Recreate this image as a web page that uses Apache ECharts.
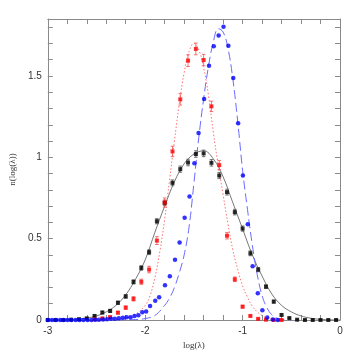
<!DOCTYPE html>
<html>
<head>
<meta charset="utf-8">
<script src="https://cdn.jsdelivr.net/npm/echarts@6/dist/echarts.min.js"></script>
<style>
  html, body { margin: 0; padding: 0; background: #fff; }
  #chart { width: 359px; height: 359px; }
</style>
</head>
<body>
<div id="chart"></div>
<script>
// tick labels
const xTickLabels = [-3, -2, -1, 0];
const yTickLabels = [0, 0.5, 1, 1.5];

// black points (with error bars)
const blackX = [-3.00, -2.92, -2.84, -2.76, -2.68, -2.60, -2.52, -2.44, -2.36, -2.28,
  -2.20, -2.12, -2.04, -1.96, -1.88, -1.80, -1.72, -1.64, -1.56, -1.48,
  -1.40, -1.32, -1.24, -1.16, -1.08, -1.00, -0.92, -0.84, -0.76, -0.68,
  -0.60, -0.52, -0.44, -0.36, -0.28, -0.20, -0.12, -0.04];
const blackY = [0, 0, 0, 0.002, 0.005, 0.010, 0.025, 0.046, 0.056, 0.106,
  0.145, 0.234, 0.320, 0.417, 0.607, 0.720, 0.843, 0.927, 0.968, 1.020,
  1.024, 0.966, 0.888, 0.786, 0.663, 0.562, 0.410, 0.310, 0.205, 0.113,
  0.031, 0.012, 0.002, 0, 0, 0, 0, 0];
const blackErr = [0.002, 0.002, 0.002, 0.003, 0.004, 0.005, 0.006, 0.008, 0.009, 0.010,
  0.011, 0.013, 0.014, 0.015, 0.016, 0.017, 0.018, 0.019, 0.020, 0.020,
  0.020, 0.020, 0.019, 0.018, 0.017, 0.016, 0.015, 0.013, 0.011, 0.009,
  0.006, 0.004, 0.003, 0.002, 0.002, 0.002, 0.002, 0.002];

// red points (with error bars)
const redX = [-2.52, -2.44, -2.36, -2.28, -2.20, -2.12, -2.04, -1.96, -1.88, -1.80,
  -1.72, -1.64, -1.56, -1.48, -1.40, -1.32, -1.24, -1.16, -1.08, -1.00,
  -0.92, -0.84, -0.76, -0.68, -0.60];
const redY = [0.004, 0.010, 0.018, 0.045, 0.076, 0.130, 0.235, 0.310, 0.488, 0.722,
  1.036, 1.356, 1.594, 1.666, 1.598, 1.313, 0.952, 0.518, 0.250, 0.082,
  0.025, 0.007, 0.002, 0, 0];
const redErr = [0.003, 0.004, 0.006, 0.008, 0.010, 0.013, 0.016, 0.020, 0.024, 0.028,
  0.032, 0.035, 0.036, 0.036, 0.035, 0.032, 0.028, 0.020, 0.014, 0.008,
  0.005, 0.003, 0.002, 0.002, 0.002];

// blue points
const blueX = [-3.00, -2.957, -2.917, -2.873, -2.838, -2.798, -2.758, -2.714, -2.674, -2.634,
  -2.591, -2.551, -2.512, -2.475, -2.432, -2.392, -2.352, -2.312, -2.271, -2.230,
  -2.190, -2.150, -2.110, -2.070, -2.030, -1.990, -1.950, -1.897, -1.857, -1.797,
  -1.747, -1.694, -1.647, -1.595, -1.545, -1.495, -1.452, -1.395, -1.345, -1.296,
  -1.246, -1.196, -1.146, -1.096, -1.046, -0.997, -0.947, -0.897, -0.844, -0.797,
  -0.747, -0.690, -0.638];
const blueY = [0, 0, 0, 0, 0, 0, 0, 0, 0, 0,
  0, 0, 0.002, 0.002, 0.003, 0.005, 0.008, 0.008, 0.010, 0.014,
  0.017, 0.017, 0.025, 0.029, 0.047, 0.053, 0.086, 0.119, 0.140, 0.214,
  0.269, 0.371, 0.476, 0.628, 0.759, 0.964, 1.149, 1.358, 1.563, 1.682,
  1.748, 1.802, 1.686, 1.487, 1.210, 0.888, 0.588, 0.330, 0.164, 0.060,
  0.015, 0.003, 0];

// fitted curves
const blackFitX = [-3.0, -2.8, -2.7, -2.6, -2.5, -2.4, -2.3, -2.2, -2.1, -2.0, -1.9, -1.8, -1.7, -1.6,
  -1.5, -1.4, -1.3, -1.2, -1.1, -1.0, -0.9, -0.8, -0.7, -0.6, -0.5, -0.4, -0.3, -0.2, -0.1, 0];
const blackFitY = [0, 0.002, 0.005, 0.012, 0.025, 0.05, 0.09, 0.155, 0.25, 0.37, 0.54, 0.70, 0.85, 0.96,
  1.02, 1.04, 0.99, 0.88, 0.72, 0.56, 0.40, 0.27, 0.16, 0.09, 0.05, 0.025, 0.011, 0.004, 0.001, 0];

const redFitX = [-2.4, -2.3, -2.2, -2.1, -2.0, -1.95, -1.9, -1.85, -1.8, -1.75, -1.7, -1.65, -1.6, -1.55,
  -1.5, -1.45, -1.4, -1.35, -1.3, -1.25, -1.2, -1.15, -1.1, -1.05, -1.0, -0.95, -0.9, -0.85, -0.8,
  -0.75, -0.7, -0.65, -0.6];
const redFitY = [0, 0.003, 0.012, 0.035, 0.09, 0.15, 0.26, 0.42, 0.62, 0.86, 1.10, 1.33, 1.52, 1.65,
  1.70, 1.66, 1.55, 1.38, 1.15, 0.95, 0.77, 0.59, 0.43, 0.31, 0.21, 0.14, 0.085, 0.05, 0.027,
  0.012, 0.005, 0.001, 0];

const blueFitX = [-2.3, -2.2, -2.1, -2.0, -1.9, -1.8, -1.75, -1.7, -1.65, -1.6, -1.55, -1.5, -1.45, -1.4,
  -1.35, -1.3, -1.25, -1.2, -1.15, -1.1, -1.05, -1.0, -0.95, -0.9, -0.85, -0.8, -0.75, -0.7,
  -0.65, -0.6, -0.5];
const blueFitY = [0, 0.001, 0.003, 0.009, 0.028, 0.09, 0.135, 0.20, 0.29, 0.40, 0.57, 0.84, 1.12, 1.36,
  1.56, 1.71, 1.79, 1.77, 1.67, 1.48, 1.22, 0.92, 0.68, 0.46, 0.28, 0.15, 0.075, 0.032,
  0.012, 0.004, 0];

const zip = (xs, ys, es) => xs.map((x, i) => es ? [x, ys[i], es[i]] : [x, ys[i]]);
const near = (v, list) => list.some(t => Math.abs(v - t) < 1e-6);

// 误差棒
function errorBars(color) {
  return function (params, api) {
    const x = api.value(0), y = api.value(1), e = api.value(2);
    const top = api.coord([x, y + e]);
    const bot = api.coord([x, Math.max(0, y - e)]);
    const style = { stroke: color, lineWidth: 0.8 };
    return {
      type: 'group',
      children: [
        { type: 'line', shape: { x1: top[0], y1: top[1], x2: bot[0], y2: bot[1] }, style },
        { type: 'line', shape: { x1: top[0] - 1.8, y1: top[1], x2: top[0] + 1.8, y2: top[1] }, style },
        { type: 'line', shape: { x1: bot[0] - 1.8, y1: bot[1], x2: bot[0] + 1.8, y2: bot[1] }, style }
      ]
    };
  };
}

const frame = { show: true, onZero: false, lineStyle: { color: '#8a8a8a', width: 1 } };
const ticks = { show: true, inside: true, length: 5, lineStyle: { color: '#8a8a8a', width: 1 } };

const myChart = echarts.init(document.getElementById('chart'), null, { renderer: 'canvas' });
const option = {
  animation: false,
  grid: { left: 39, right: 19, top: 19, bottom: 39 },
  xAxis: [
    {
      type: 'value', min: -3, max: 0, interval: 0.2, position: 'bottom',
      axisLine: frame, axisTick: ticks, splitLine: { show: false },
      axisLabel: {
        color: '#333', fontSize: 10, fontFamily: 'Liberation Sans', margin: 6,
        formatter: v => near(v, xTickLabels) ? String(Math.round(v)) : ''
      },
      name: 'log(λ)', nameLocation: 'middle', nameGap: 19,
      nameTextStyle: { color: '#333', fontSize: 9, fontFamily: 'Liberation Serif' }
    },
    {
      type: 'value', min: -3, max: 0, interval: 0.2, position: 'top',
      axisLine: frame, axisTick: ticks, splitLine: { show: false }, axisLabel: { show: false }
    }
  ],
  yAxis: [
    {
      type: 'value', min: 0, max: 1.85, interval: 0.1, position: 'left',
      axisLine: frame, axisTick: ticks, splitLine: { show: false },
      axisLabel: {
        color: '#333', fontSize: 10, fontFamily: 'Liberation Sans', margin: 6,
        showMaxLabel: false,
        formatter: v => near(v, yTickLabels) ? String(Math.round(v * 10) / 10) : ''
      },
      name: 'n(log(λ))', nameLocation: 'middle', nameGap: 26,
      nameTextStyle: { color: '#333', fontSize: 9, fontFamily: 'Liberation Serif' }
    },
    {
      type: 'value', min: 0, max: 1.85, interval: 0.1, position: 'right',
      axisLine: frame, axisTick: ticks, splitLine: { show: false }, axisLabel: { show: false }
    }
  ],
  series: [
    {
      type: 'line', data: zip(blackFitX, blackFitY), smooth: 0.4, symbol: 'none',
      lineStyle: { color: '#555', width: 0.8 }, z: 2
    },
    {
      type: 'line', data: zip(redFitX, redFitY), smooth: 0.4, symbol: 'none',
      lineStyle: { color: '#ff7070', width: 1, type: [1.5, 2] }, z: 2
    },
    {
      type: 'line', data: zip(blueFitX, blueFitY), smooth: 0.4, symbol: 'none',
      lineStyle: { color: '#6a6aff', width: 1, type: [9, 4] }, z: 2
    },
    {
      type: 'custom', data: zip(blackX, blackY, blackErr), renderItem: errorBars('#555'),
      encode: { x: 0, y: 1 }, z: 3
    },
    {
      type: 'custom', data: zip(redX, redY, redErr), renderItem: errorBars('#f05050'),
      encode: { x: 0, y: 1 }, z: 3
    },
    {
      type: 'scatter', data: zip(blackX, blackY), symbol: 'rect', symbolSize: 4,
      itemStyle: { color: '#000' }, z: 4
    },
    {
      type: 'scatter', data: zip(redX, redY), symbol: 'rect', symbolSize: 4,
      itemStyle: { color: '#ff0000' }, z: 4
    },
    {
      type: 'scatter', data: zip(blueX, blueY), symbol: 'circle', symbolSize: 4.5,
      itemStyle: { color: '#0000ff' }, z: 5
    }
  ]
};
myChart.setOption(option);
// 自适应
window.addEventListener('resize', function () {
  myChart.resize();
});
</script>
</body>
</html>
